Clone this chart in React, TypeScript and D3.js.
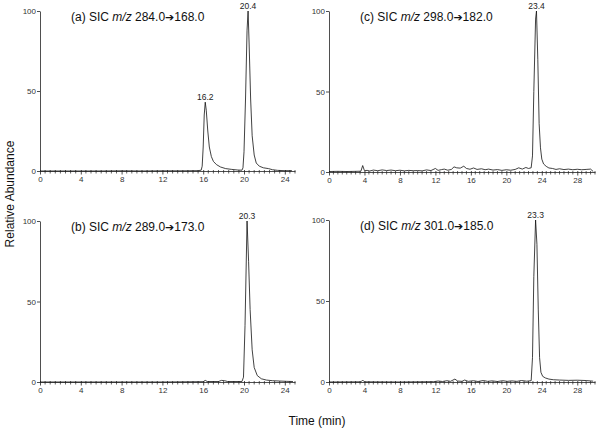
import {useRef,useEffect} from 'react'
import * as d3 from 'd3'

// chromatogram traces: [time (min), relative abundance]
const traceA = [[0,0],[2,0],[4,0],[6,0],[8,0.1],[10,0],[12,0.1],[14,0.1],[15.5,0.2],[15.8,0.5],[15.9,3],[16.0,15],[16.1,35],[16.2,43],[16.3,38],[16.45,25],[16.6,15],[16.8,9],[17.0,6],[17.3,4],[17.7,2.5],[18.2,1.5],[18.8,1],[19.4,0.6],[19.8,0.5],[19.9,2],[20.0,12],[20.15,45],[20.3,88],[20.4,100],[20.5,80],[20.65,45],[20.8,22],[21.0,10],[21.2,5],[21.5,3],[21.9,2],[22.4,1.5],[22.8,0.8],[23.3,0.4],[24,0.2],[24.7,0.2]]
const traceB = [[0,0],[4,0],[8,0],[12,0],[16.0,0.2],[16.2,1],[16.4,0.3],[17.5,0.3],[17.8,1],[18.1,0.8],[18.4,0.3],[19.8,0.3],[19.95,3],[20.1,35],[20.3,100],[20.45,75],[20.6,45],[20.8,20],[21.0,9],[21.3,4],[21.7,2],[22.2,1.2],[22.8,0.8],[23.5,0.6],[24.2,0.4],[24.8,0.3]]
const traceC = [[0,0.3],[1,0.4],[2,0.3],[3,0.4],[3.6,0.5],[3.8,4],[4.0,0.8],[4.3,1],[4.6,0.6],[5,1.2],[5.5,0.8],[6,1.3],[6.5,0.9],[7,1.2],[7.5,0.8],[8,1.1],[8.5,0.7],[9,1],[9.5,0.8],[10,0.9],[10.5,0.7],[11,1.3],[11.5,0.9],[12,2.2],[12.3,1],[12.7,1.5],[13,1.8],[13.4,1.1],[13.8,1.6],[14.1,3.2],[14.4,2.6],[14.8,2.4],[15.2,3.6],[15.5,2.2],[15.9,1.7],[16.3,2.5],[16.7,1.6],[17.2,2],[17.6,1.4],[18,1.8],[18.5,1.2],[19,1.5],[19.5,1],[20,1.4],[20.5,1.1],[21,1.6],[21.4,2.6],[21.8,1.8],[22.2,2.8],[22.5,2.2],[22.8,2.6],[22.95,10],[23.1,50],[23.3,95],[23.4,100],[23.55,70],[23.7,30],[23.85,15],[24.0,8],[24.2,5],[24.5,3.5],[24.8,2.5],[25.2,2.2],[25.6,1.6],[26,2],[26.5,1.5],[27,1.8],[27.5,1.4],[28,1.7],[28.5,1.4],[29,1.6],[29.5,1.8],[29.8,0.3]]
const traceD = [[0,0],[3.6,0.1],[3.8,1.2],[4.0,0.1],[8,0],[11.8,0.2],[12.3,0.6],[12.8,0.3],[13.3,0.8],[13.7,0.4],[14.2,1.8],[14.5,0.6],[15,0.4],[15.3,1.2],[15.7,0.4],[16.3,0.8],[16.8,0.3],[17.4,0.9],[17.9,0.4],[18.4,0.7],[19,0.3],[19.6,0.8],[20.1,0.4],[20.6,0.7],[21.2,0.4],[21.7,0.9],[22.3,0.5],[22.8,0.8],[22.95,15],[23.1,65],[23.3,100],[23.45,85],[23.6,45],[23.75,15],[23.9,6],[24.1,3.5],[24.4,2.5],[24.8,1.8],[25.3,1.4],[26,1.2],[27,1],[28,1.1],[29,0.9],[29.8,0.5]]

const titles = [['(a) SIC ','284.0','168.0'],['(b) SIC ','289.0','173.0'],['(c) SIC ','298.0','182.0'],['(d) SIC ','301.0','185.0']]
const peaksA = [[16.2,43,'16.2'],[20.4,100,'20.4']]
const peaksB = [[20.3,100,'20.3']]
const peaksC = [[23.4,100,'23.4']]
const peaksD = [[23.3,100,'23.3']]
const xMax = [25,25,30,30]
const yTicks = [0,50,100]

const FONT = '"Liberation Sans", Arial, sans-serif'

function App() {
  const ref = useRef<SVGSVGElement>(null)

  useEffect(()=> {
    const svg = d3.select(ref.current)
    svg.selectAll('*').remove()

    // panel boxes: left, right, y of 100, y of 0
    const boxes = [
      {l:40, r:295, t:11, b:171},
      {l:40, r:295, t:221, b:382},
      {l:329, r:595, t:11, b:172},
      {l:329, r:595, t:220, b:382},
    ]
    const traces = [traceA, traceB, traceC, traceD]
    const peaks = [peaksA, peaksB, peaksC, peaksD]

    boxes.forEach((bx, i) => {
      const x = d3.scaleLinear().domain([0, xMax[i]]).range([bx.l, bx.r])
      const y = d3.scaleLinear().domain([0, 100]).range([bx.b, bx.t])
      const g = svg.append('g')

      // x axis, minor ticks every 0.5
      const minor = d3.range(0, xMax[i] + 0.01, 0.5).filter(v => v % 4 !== 0)
      const xa = g.append('g').attr('transform', `translate(0,${bx.b})`)
        .call(d3.axisBottom(x).tickValues(d3.range(0, xMax[i] + 0.01, 4)).tickSize(3.5).tickSizeOuter(0).tickPadding(2))
      xa.select('.domain').attr('stroke', '#222').attr('stroke-width', 0.8)
      xa.selectAll('.tick line').attr('stroke', '#222').attr('stroke-width', 0.8).attr('y1', -1)
      xa.selectAll('text').style('font', `8px ${FONT}`).attr('fill', '#333')
      xa.selectAll('.minor').data(minor).enter().append('line').attr('class','minor')
        .attr('x1', d => x(d)).attr('x2', d => x(d)).attr('y1', -1).attr('y2', 2.5)
        .attr('stroke', '#222').attr('stroke-width', 0.7)

      // y axis
      const ya = g.append('g').attr('transform', `translate(${bx.l},0)`)
        .call(d3.axisLeft(y).tickValues(yTicks).tickSize(3).tickSizeOuter(0).tickPadding(1))
      ya.select('.domain').attr('stroke', '#222').attr('stroke-width', 0.8)
      ya.selectAll('.tick line').attr('stroke', '#222').attr('stroke-width', 0.8)
      ya.selectAll('text').style('font', `8px ${FONT}`).attr('fill', '#333')

      // trace
      const line = d3.line<number[]>().x(d => x(d[0])).y(d => y(d[1]))
      g.append('path').datum(traces[i]).attr('d', line)
        .attr('fill', 'none').attr('stroke', '#111').attr('stroke-width', 0.8).attr('stroke-linejoin', 'round')

      // peak labels
      g.selectAll('.pk').data(peaks[i]).enter().append('text').attr('class','pk')
        .attr('x', d => x(d[0] as number)).attr('y', d => y(d[1] as number) - 2)
        .attr('text-anchor', 'middle').style('font', `8.5px ${FONT}`).attr('fill', '#222')
        .text(d => d[2] as string)

      // title
      const t = g.append('text').attr('x', bx.l + 31).attr('y', bx.t + 9.5)
        .style('font', `12px ${FONT}`).attr('fill', '#111')
      t.append('tspan').text(titles[i][0])
      t.append('tspan').style('font-style', 'italic').text('m/z')
      t.append('tspan').text(' ' + titles[i][1])
      t.append('tspan').style('font-family', '"DejaVu Sans", sans-serif').style('font-size', '11px').text('\u2794')
      t.append('tspan').text(titles[i][2])
    })

    svg.append('text')
      .attr('transform', 'translate(14,194) rotate(-90)')
      .attr('text-anchor', 'middle')
      .style('font', `12px ${FONT}`).attr('fill', '#111')
      .text('Relative Abundance')
    svg.append('text')
      .attr('x', 317).attr('y', 425)
      .attr('text-anchor', 'middle')
      .style('font', `12px ${FONT}`).attr('fill', '#111')
      .text('Time (min)')
  },[])

  return (
    <svg ref={ref} width={600} height={432}
      style={{position:'absolute', left:0, top:0, background:'#fff'}}>
    </svg>
  );
}

export default App;
